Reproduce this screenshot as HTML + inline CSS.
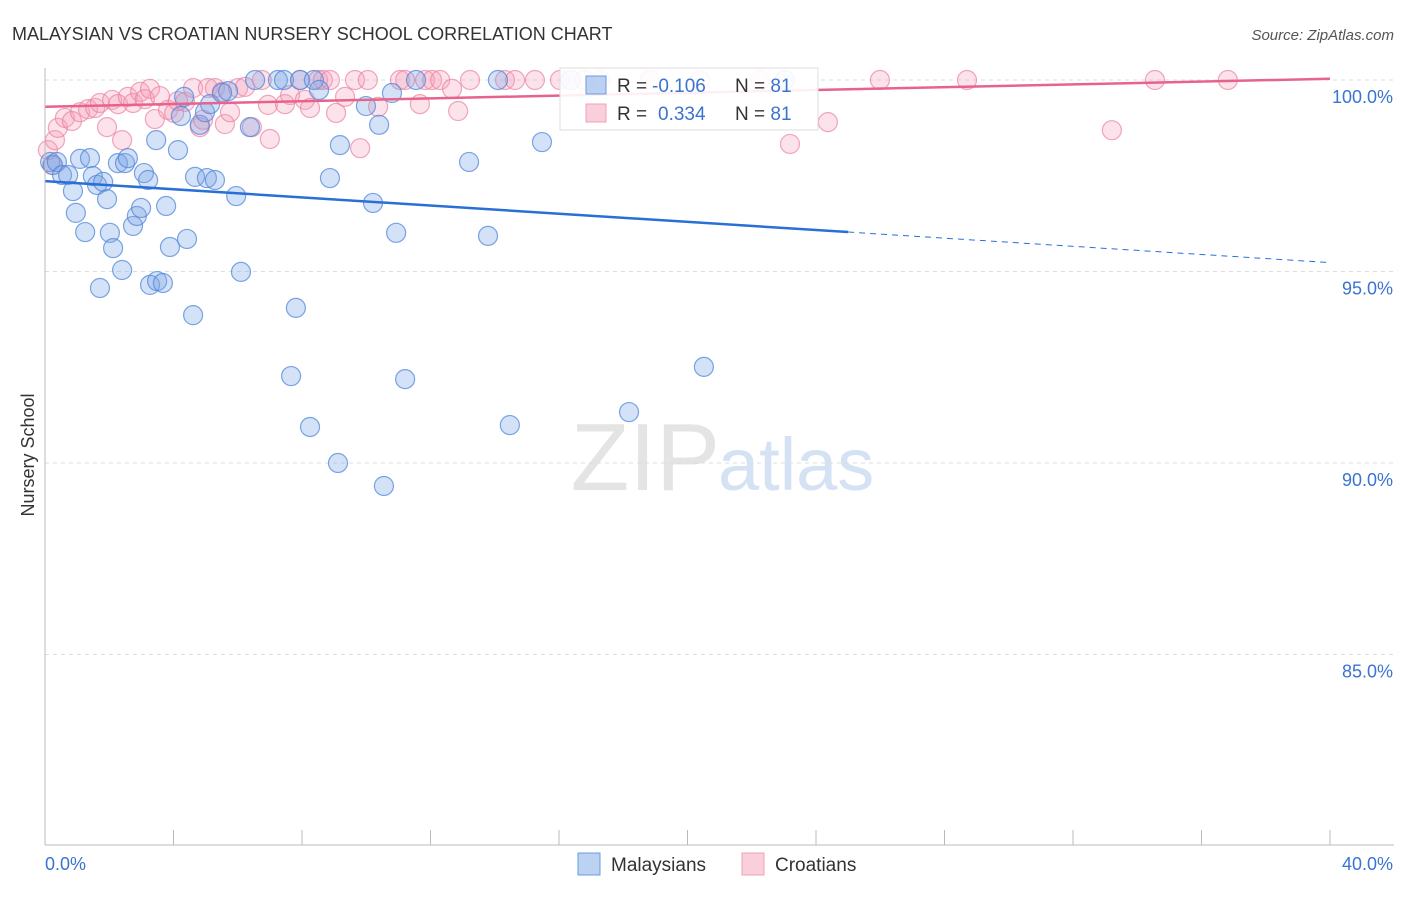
<!DOCTYPE html>
<html><head><meta charset="utf-8"><style>
body{margin:0;background:#fff;font-family:"Liberation Sans",sans-serif}
svg text{font-family:"Liberation Sans",sans-serif}
</style></head><body>
<svg id="c" width="1406" height="892">
<text x="12" y="40" font-size="18" fill="#333">MALAYSIAN VS CROATIAN NURSERY SCHOOL CORRELATION CHART</text>
<text x="1394" y="40" font-size="15" fill="#555" font-style="italic" text-anchor="end">Source: ZipAtlas.com</text>
<text x="720" y="490" font-size="96" fill="#e4e4e4" text-anchor="end" font-family="Liberation Serif">ZIP</text>
<text x="718" y="490" font-size="74" fill="#d4e2f4">atlas</text>
<text transform="translate(34,455) rotate(-90)" font-size="18" fill="#333" text-anchor="middle">Nursery School</text>
<g id="grid"></g><g id="marks"></g><g id="axes"></g>
</svg>
<script>
const yTicks=[100,95,90,85];
const xTickLabels=["0.0%","40.0%"];
const blueX=[0.16,0.25,0.37,0.53,0.72,0.87,0.96,1.09,1.25,1.40,1.49,1.62,1.71,1.81,1.93,2.02,2.12,2.27,2.40,2.49,2.58,2.74,2.86,2.99,3.08,3.21,3.27,3.46,3.49,3.67,3.77,3.89,4.14,4.23,4.33,4.42,4.61,4.67,4.82,4.98,5.04,5.14,5.29,5.51,5.70,5.95,6.10,6.38,6.54,7.25,7.44,7.66,7.81,7.94,8.25,8.37,8.53,8.87,9.12,9.18,9.99,10.21,10.40,10.55,10.80,10.93,11.21,11.55,13.20,13.79,14.10,14.47,15.47,16.37,18.18,20.51,23.03];
const blueY=[97.86,97.78,97.86,97.52,97.52,97.10,96.53,97.94,96.03,97.96,97.49,97.26,94.57,97.34,96.89,96.01,95.61,97.83,95.04,97.83,97.96,96.19,96.45,96.66,97.57,97.39,94.65,98.43,94.75,94.70,96.71,95.64,98.17,99.06,99.56,95.85,93.86,97.47,98.83,99.16,97.44,99.37,97.39,99.66,99.71,96.97,94.99,98.77,100,100,100,92.27,94.05,100,90.94,100,99.74,97.44,90.0,98.30,99.32,96.79,98.83,89.40,99.66,96.01,92.19,100,97.86,95.93,100,90.99,98.38,100,91.33,92.51,100];
const pinkX=[0.09,0.22,0.31,0.40,0.62,0.84,1.09,1.34,1.56,1.71,1.93,2.09,2.27,2.40,2.58,2.74,2.96,3.11,3.27,3.42,3.58,3.83,4.02,4.14,4.36,4.61,4.82,4.92,5.07,5.29,5.51,5.60,5.76,6.01,6.23,6.44,6.75,6.94,7.00,7.47,7.63,7.94,8.09,8.25,8.50,8.65,8.87,9.06,9.34,9.65,9.81,10.05,10.37,11.05,11.21,11.67,11.83,12.05,12.30,12.67,12.86,13.23,14.32,14.63,15.25,16.03,16.81,17.28,18.83,20.39,22.26,23.19,24.37,25.99,28.70,33.21,34.55,36.82];
const pinkY=[98.17,97.78,98.43,98.75,99.01,98.93,99.16,99.24,99.27,99.40,98.77,99.48,99.37,98.43,99.56,99.40,99.69,99.50,99.77,98.98,99.58,99.22,99.14,99.45,99.43,99.79,98.77,98.96,99.79,99.79,99.69,98.85,99.16,99.79,99.82,98.77,100,99.35,98.46,99.37,99.61,100,99.48,99.27,100,100,100,99.14,99.56,100,98.22,100,99.30,100,100,99.37,100,100,100,99.77,99.19,100,100,100,100,100,100,100,100,100,100,98.33,98.90,100,100,98.69,100,100];
const blueTrend=[97.36,-0.0532,25];
const pinkTrend=[99.30,0.0183,40];
const legendR=["-0.106","0.334"];
const legendN=["81","81"];
const NS="http://www.w3.org/2000/svg";
const X0=45,X1=1330,Y100=80,PPU=38.3;
const sx=v=>X0+(v/40)*(X1-X0);
const sy=v=>Y100+(100-v)*PPU;
function mk(tag,attrs,parent){const e=document.createElementNS(NS,tag);for(const k in attrs)e.setAttribute(k,attrs[k]);parent.appendChild(e);return e;}
const grid=document.getElementById('grid'),marks=document.getElementById('marks'),axes=document.getElementById('axes');
yTicks.forEach(t=>{
 const l=mk('line',{x1:X0,x2:1394,y1:sy(t),y2:sy(t),stroke:'#ddd','stroke-dasharray':'4,4'},grid);
 
 
 const tx=mk('text',{x:1393,y:sy(t)+23,'font-size':18,fill:'#3a74d0','text-anchor':'end'},axes);
 tx.textContent=t.toFixed(1)+'%';
 
 
});
let al=mk('line',{x1:X0,x2:X0,y1:68,y2:845,stroke:'#bbb'},axes);


al=mk('line',{x1:X0,x2:1394,y1:845,y2:845,stroke:'#bbb'},axes);


for(let i=0;i<=10;i++){const t=mk('line',{x1:sx(i*4),x2:sx(i*4),y1:830,y2:845,stroke:'#bbb'},axes);
 
 }
xTickLabels.forEach((s,i)=>{const t=mk('text',{x:i?1393:45,y:870,'font-size':18,fill:'#3a74d0','text-anchor':i?'end':'start'},axes);t.textContent=s;
 
 });
pinkX.forEach((x,i)=>{const c=mk('circle',{cx:sx(x),cy:sy(pinkY[i]),r:9.5,fill:'rgba(245,160,185,0.3)',stroke:'rgba(235,130,160,0.7)','stroke-width':1.2},marks);
 
 });
blueX.forEach((x,i)=>{const c=mk('circle',{cx:sx(x),cy:sy(blueY[i]),r:9.5,fill:'rgba(120,165,230,0.32)',stroke:'rgba(80,135,220,0.75)','stroke-width':1.2},marks);
 
 });
const bt=v=>blueTrend[0]+blueTrend[1]*v;
let ln=mk('line',{x1:sx(0),y1:sy(bt(0)),x2:sx(blueTrend[2]),y2:sy(bt(blueTrend[2])),stroke:'#2a6fd6','stroke-width':2.5},marks);


ln=mk('line',{x1:sx(blueTrend[2]),y1:sy(bt(blueTrend[2])),x2:sx(40),y2:sy(bt(40)),stroke:'#2a6fd6','stroke-width':1,'stroke-dasharray':'6,5'},marks);


const pt=v=>pinkTrend[0]+pinkTrend[1]*v;
ln=mk('line',{x1:sx(0),y1:sy(pt(0)),x2:sx(pinkTrend[2]),y2:sy(pt(pinkTrend[2])),stroke:'#e8638c','stroke-width':2.5},marks);


// top legend
const lg=mk('g',{},axes);


mk('rect',{x:560,y:68,width:258,height:62,fill:'rgba(255,255,255,0.9)',stroke:'#ddd'},lg);
[["rgba(120,165,230,0.5)","#6a9be0"],["rgba(245,160,185,0.5)","#f0a0b8"]].forEach((c,i)=>{
 const y=76+i*28;
 const r=mk('rect',{x:586,y:y,width:20,height:18,fill:c[0],stroke:c[1]},lg);
 
 
 const t=mk('text',{x:617,y:y+16,'font-size':19,fill:'#333'},lg);
 t.innerHTML='R = <tspan fill="#3a74d0" x="'+(i?658:652)+'">'+legendR[i]+'</tspan><tspan x="735" fill="#333">N = </tspan><tspan fill="#3a74d0">'+legendN[i]+'</tspan>';
 
 
});
// bottom legend
[["Malaysians","rgba(120,165,230,0.5)","#6a9be0",578],["Croatians","rgba(245,160,185,0.5)","#f0a0b8",742]].forEach(d=>{
 const r=mk('rect',{x:d[3],y:853,width:22,height:22,fill:d[1],stroke:d[2]},axes);
 
 
 const t=mk('text',{x:d[3]+33,y:871,'font-size':19,fill:'#333'},axes);t.textContent=d[0];
 
 
});
</script>
</body></html>
